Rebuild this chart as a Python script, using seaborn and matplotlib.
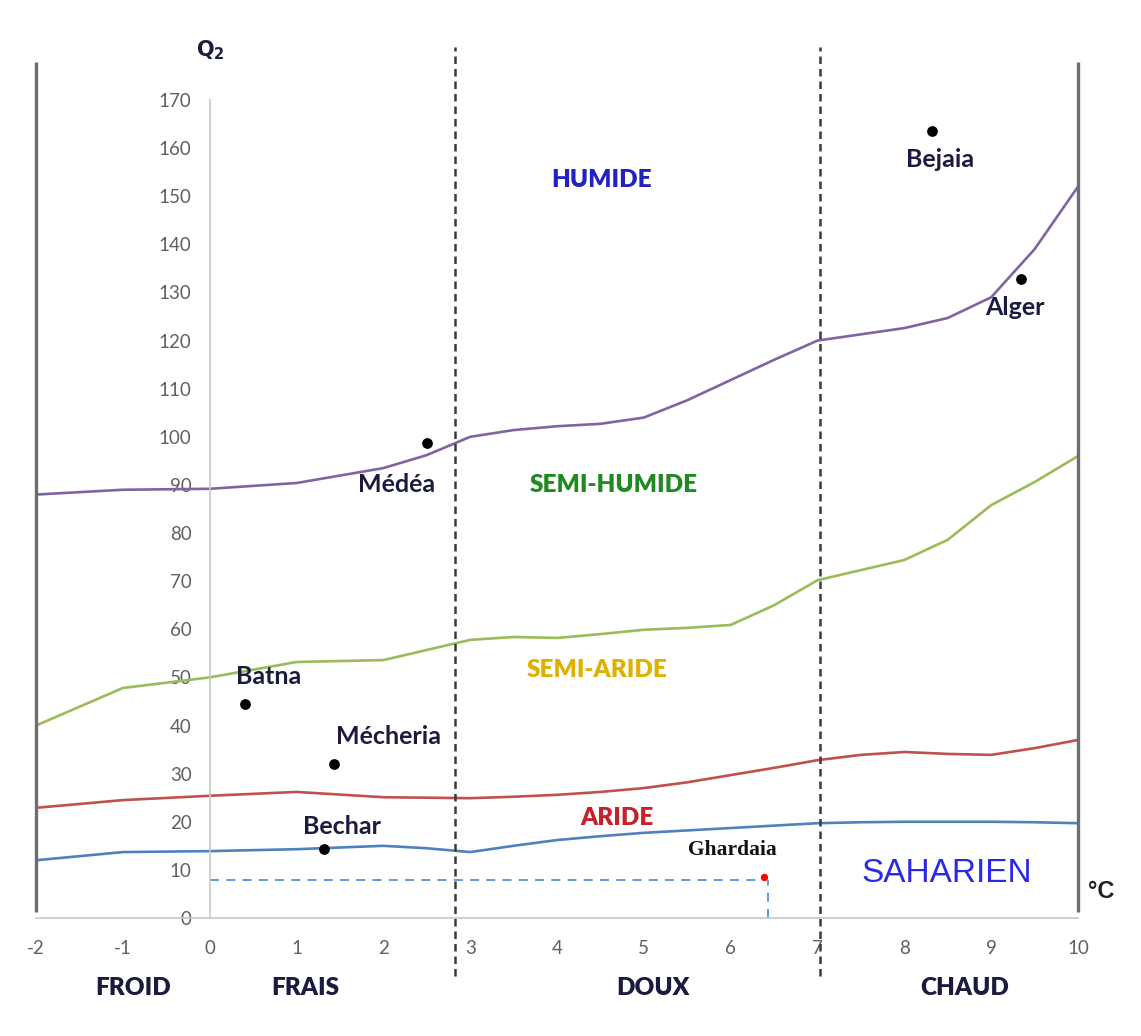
import numpy as np
import pandas as pd
import matplotlib
matplotlib.use("Agg")
import matplotlib.pyplot as plt
import seaborn as sns

# ---------------- data ----------------
curve_x = [-2, -1, 0, 1, 2, 2.5, 3, 3.5, 4, 4.5, 5, 5.5, 6, 6.5, 7, 7.5, 8, 8.5, 9, 9.5, 10]
humide_limit = [88, 89, 89.2, 90.4, 93.5, 96.2, 100, 101.4, 102.2, 102.7, 104, 107.6, 111.8, 116, 120, 121.3, 122.6, 124.7, 129, 139, 152]
semihumide_limit = [40, 47.8, 50, 53.2, 53.6, 55.7, 57.8, 58.4, 58.2, 59, 59.9, 60.3, 60.9, 65, 70.2, 72.3, 74.4, 78.6, 85.8, 90.6, 96]
semiaride_limit = [22.9, 24.5, 25.4, 26.2, 25.1, 25, 24.9, 25.2, 25.6, 26.2, 27, 28.2, 29.7, 31.2, 32.8, 33.9, 34.5, 34.1, 33.9, 35.3, 37]
aride_limit = [12, 13.7, 13.9, 14.3, 15, 14.5, 13.7, 15, 16.2, 17, 17.7, 18.2, 18.7, 19.2, 19.7, 19.9, 20, 20, 20, 19.9, 19.7]

stations = ["Bejaia", "Alger", "Médéa", "Batna", "Mécheria", "Bechar"]
station_m = [8.32, 9.34, 2.50, 0.41, 1.43, 1.32]
station_q2 = [163.5, 132.8, 98.7, 44.5, 32.0, 14.3]

ghardaia_m = [6.38]
ghardaia_q2 = [8.0]

zone_limits_x = [2.83, 7.03]      # FRAIS/DOUX and DOUX/CHAUD limits
x_ticks = list(range(-2, 11))
y_ticks = list(range(0, 171, 10))

zones = ["HUMIDE", "SEMI-HUMIDE", "SEMI-ARIDE", "ARIDE"]
thermal = ["FROID", "FRAIS", "DOUX", "CHAUD"]

# ---------------- figure ----------------
sns.set_style("white")
plt.rcParams['font.family'] = ['Lato', 'DejaVu Sans']

W, H = 1141, 1036
fig = plt.figure(figsize=(W / 100, H / 100), dpi=100)
# x: -2 -> px 36, 10 -> px 1078 ; y: 0 -> px 918, 170 -> px 100
ppu_y = (918 - 100) / 170.0
ymin, ymax = -20, 185
bot_px = 918 + (0 - ymin) * ppu_y
top_px = 918 - ymax * ppu_y
ax = fig.add_axes([36 / W, (H - bot_px) / H, (1078 - 36) / W, (bot_px - top_px) / H])
ax.set_xlim(-2, 10)
ax.set_ylim(ymin, ymax)

df = pd.DataFrame({
    "m": curve_x * 4,
    "Q2": humide_limit + semihumide_limit + semiaride_limit + aride_limit,
    "limit": sum([[z] * len(curve_x) for z in zones], []),
})
palette = {"HUMIDE": "#8064a2", "SEMI-HUMIDE": "#9bbb59",
           "SEMI-ARIDE": "#c0504d", "ARIDE": "#4f81bd"}
sns.lineplot(data=df, x="m", y="Q2", hue="limit", palette=palette, ax=ax,
             linewidth=1.9, legend=False, sort=True, estimator=None)
for ln in ax.lines:
    ln.set_solid_joinstyle("round")
    ln.set_solid_capstyle("round")

# boundary verticals
ax.vlines([-2, 10], 1.2, 178, colors="#6e6e6e", linewidth=2.4, clip_on=False, zorder=3)
ax.vlines(zone_limits_x, -12, 181, colors="#3a3a3a", linewidth=1.8,
          linestyles=(0, (3, 2)), clip_on=False, zorder=3)

# Ghardaia guide lines
ax.hlines(ghardaia_q2[0] - 0.2, 0, ghardaia_m[0] - 0.05, colors="#5b8fd0", linewidth=1.3,
          linestyles=(0, (5, 4)), zorder=2)
ax.vlines(ghardaia_m[0] + 0.05, 0, ghardaia_q2[0] - 0.2, colors="#5b8fd0", linewidth=1.3,
          linestyles=(0, (5, 4)), zorder=2)

sdf = pd.DataFrame({"m": station_m, "Q2": station_q2, "name": stations})
sns.scatterplot(data=sdf, x="m", y="Q2", color="black", s=60, ax=ax, zorder=5,
                edgecolor="black", linewidth=0)
sns.scatterplot(x=ghardaia_m, y=[v + 0.5 for v in ghardaia_q2], color="red", s=28, ax=ax,
                zorder=5, linewidth=0)

# axes styling (axes through origin)
for s in ["top", "right"]:
    ax.spines[s].set_visible(False)
ax.spines["left"].set_position(("data", 0))
ax.spines["bottom"].set_position(("data", 0))
ax.spines["left"].set_bounds(0, 170)
ax.spines["bottom"].set_bounds(-2, 10)
for s in ["left", "bottom"]:
    ax.spines[s].set_color("#c8c8c8")
    ax.spines[s].set_linewidth(1.2)
ax.set_xticks(x_ticks)
ax.set_yticks(y_ticks)
ax.set_xticklabels([str(v) for v in x_ticks])
ax.set_yticklabels([str(v) for v in y_ticks])
ax.tick_params(axis="both", direction="out", length=5, width=1.2, color="#c8c8c8",
               labelcolor="#606060", labelsize=13.5)
ax.tick_params(axis="x", pad=11)
ax.tick_params(axis="y", pad=8)
ax.set_xlabel("")
ax.set_ylabel("")

def px2d(px, py):
    return (px - 36) / ((1078 - 36) / 12.0) - 2, (918 - py) / ppu_y

navy = "#1b1b3f"
def put(px, py, s, **kw):
    x, y = px2d(px, py)
    ax.text(x, y, s, ha="center", va="center", clip_on=False, **kw)

# zone labels
put(602, 180, zones[0], color="#2222c0", fontsize=17.5, fontweight="heavy")
put(614, 485, zones[1], color="#1f8a1f", fontsize=17.5, fontweight="heavy")
put(597, 670, zones[2], color="#e0b000", fontsize=17.5, fontweight="heavy")
put(617, 818, zones[3], color="#c8202a", fontsize=17.5, fontweight="heavy")
put(947, 873, "SAHARIEN", color="#2a2ae6", fontsize=24, family=["Liberation Sans"])
put(1101, 892, "°C", color="#222222", fontsize=17, fontweight="bold",
    family=["Liberation Sans"])

# station labels
lab_px = {"Bejaia": (940, 160), "Alger": (1015, 308), "Médéa": (397, 485),
          "Batna": (269, 676), "Mécheria": (389, 737), "Bechar": (342, 826)}
for n in stations:
    put(*lab_px[n], n, color=navy, fontsize=18, fontweight="bold")
put(732, 850, "Ghardaia", color="#111111", fontsize=15.5, fontweight="bold",
    family=["Liberation Serif"])

# thermal classes
for n, px in zip(thermal, [133, 305, 653, 965]):
    put(px, 988, n, color=navy, fontsize=17.5, fontweight="heavy")

put(210, 50, r"$\mathbf{Q_2}$", color=navy, fontsize=15)

fig.savefig("out.png", dpi=100, facecolor="white")
